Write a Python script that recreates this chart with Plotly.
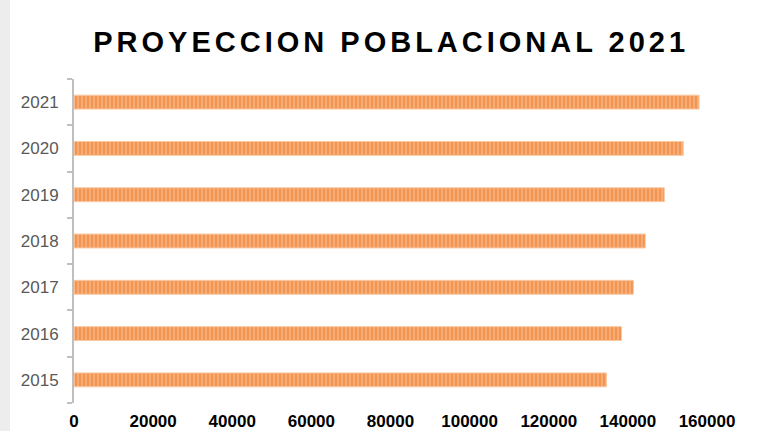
import plotly.graph_objects as go

years = ["2015", "2016", "2017", "2018", "2019", "2020", "2021"]
population = [134600, 138400, 141400, 144400, 149200, 154000, 158000]
x_ticks = [0, 20000, 40000, 60000, 80000, 100000, 120000, 140000, 160000]
title_text = "PROYECCION POBLACIONAL 2021"

fig = go.Figure()
fig.add_trace(go.Bar(
    y=years, x=population, orientation="h",
    marker=dict(
        color="#F4A060",
        line=dict(color="#F9C8A2", width=1),
        pattern=dict(shape="|", fgcolor="#EE7E32", bgcolor="#F6AC74", size=4, solidity=0.5),
    ),
    width=0.3,
))

fig.update_layout(
    width=770, height=431,
    margin=dict(l=74, r=63, t=79, b=28),
    paper_bgcolor="white", plot_bgcolor="white",
    showlegend=False,
    title=dict(
        text='<span style="letter-spacing:4px">' + title_text + '</span>',
        x=0.508, xanchor="center", y=0.903, yanchor="middle",
        font=dict(family="Liberation Sans, Arial", size=29, color="black", weight="bold"),
    ),
    xaxis=dict(
        range=[0, 160000], tickvals=x_ticks, ticktext=[str(v) for v in x_ticks],
        showgrid=False, zeroline=False, showline=False, automargin=False,
        tickfont=dict(family="Liberation Sans Narrow, Liberation Sans, Arial", size=17, color="black", weight="bold"),
        ticks="", ticklabelstandoff=6,
    ),
    yaxis=dict(
        type="category", categoryorder="array", categoryarray=years,
        showgrid=False, zeroline=False, automargin=False,
        showline=True, linecolor="#BFBFBF", linewidth=2,
        ticks="outside", tickson="boundaries", ticklen=5, tickcolor="#BFBFBF", tickwidth=2,
        tickfont=dict(family="Liberation Sans, Arial", size=17, color="#595959"),
        ticklabelstandoff=10,
    ),
    shapes=[
        dict(type="rect", xref="paper", yref="paper", x0=-74/633, x1=-64/633, y0=-0.2, y1=1.3,
             fillcolor="#EDEDED", line=dict(width=0), layer="below"),
    ],
)

fig.write_html("out.html", config={"displayModeBar": False},
               post_script="document.body.style.margin='0';")
